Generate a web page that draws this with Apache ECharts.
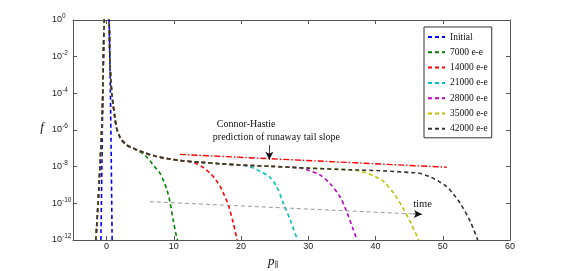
<!DOCTYPE html>
<html><head><meta charset="utf-8">
<script src="https://cdn.jsdelivr.net/npm/echarts@6/dist/echarts.min.js"></script>
<style>html,body{margin:0;padding:0;background:#fff}#c{width:563px;height:271px}</style>
</head><body><div id="c"></div>
<script>
// ---- data (p_parallel, log10 f) ----
const seriesNames = ['Initial', '7000 e-e', '14000 e-e', '21000 e-e', '28000 e-e', '35000 e-e', '42000 e-e'];
const xTickValues = [0, 10, 20, 30, 40, 50, 60];

const initialP = [-0.85, -0.7, -0.6, -0.5, -0.37, -0.2, 0, 0.2, 0.37, 0.5, 0.6, 0.7, 0.82];
const initialLogF = [-12, -7.9, -5, -2.5, 0, 2.2, 3, 2.2, 0, -2.5, -5, -7.9, -12];

// shared bulk of the evolved distributions
const coreP = [-1.6, -1.49, -1.1, -0.65, -0.35, 0.05, 0.37, 0.5, 0.64, 0.8, 1.0, 1.24, 1.49, 2.08, 2.98, 3.96];
const coreLogF = [-12, -11.35, -8.84, -5.18, 0, 2.5, 0, -2.3, -3.36, -4.1, -4.7, -5.36, -5.91, -6.45, -6.82, -7.0];

// shared runaway plateau
const plateauP = [5.45, 7.2, 8.93, 11, 13.9, 16.9, 19.8, 24.3, 30, 36.2, 40.7, 45.6];
const plateauLogF = [-7.22, -7.42, -7.55, -7.67, -7.76, -7.84, -7.91, -7.98, -8.08, -8.17, -8.22, -8.33];

// fall-off of each evolved curve
const drop7000P = [5.2, 5.8, 6.44, 7.0, 7.5, 7.93, 8.5, 9.0, 9.42, 9.9, 10.4, 10.55];
const drop7000LogF = [-7.25, -7.42, -7.68, -7.95, -8.15, -8.35, -8.8, -9.3, -9.91, -10.9, -11.82, -12];
const drop14000P = [12.6, 13.4, 14.4, 15.4, 16.2, 16.9, 17.5, 18.1, 18.85, 19.4];
const drop14000LogF = [-7.74, -7.84, -8.05, -8.36, -8.7, -9.09, -9.55, -10.09, -11.09, -12];
const drop21000P = [20.5, 21.3, 22.8, 24.2, 25.3, 26.3, 27.3, 28.4];
const drop21000LogF = [-7.93, -8.0, -8.25, -8.55, -9.09, -10.0, -10.9, -12];
const drop28000P = [28.5, 29.8, 31.7, 33.2, 34.7, 35.7, 36.7, 37.25];
const drop28000LogF = [-8.06, -8.17, -8.45, -8.91, -9.64, -10.45, -11.45, -12];
const drop35000P = [37, 38.5, 40, 41.2, 42.7, 44.1, 45.4, 46.4];
const drop35000LogF = [-8.2, -8.33, -8.55, -8.8, -9.45, -10.27, -11.18, -12];
const drop42000P = [46.5, 48.1, 49.4, 50.6, 51.6, 52.6, 54.1, 55.2];
const drop42000LogF = [-8.36, -8.55, -8.8, -9.09, -9.5, -10.0, -11.0, -12];

// Connor-Hastie predicted slope
const connorP = [10.9, 50.6];
const connorLogF = [-7.33, -8.03];
// "time" arrow (dashed shaft, black head)
const timeP = [6.44, 46.9];
const timeLogF = [-9.91, -10.6];
const timeHeadP = [45.6, 46.9];
const timeHeadLogF = [-10.578, -10.6];
// annotation arrow to Connor-Hastie line
const noteArrowP = [24.2, 24.2];
const noteArrowLogF = [-6.82, -7.62];

// ---- styles ----
const colors = ['#0000ff', '#008000', '#ff0000', '#00bfbf', '#bf00bf', '#bfbf00', '#333333'];
const serif = "'Liberation Serif', 'DejaVu Serif', serif";
const sans = "'Liberation Sans', Arial, sans-serif";
const axisColor = '#555';

function zip(ps, fs) { return ps.map((p, i) => [p, fs[i]]); }
function evolved(dropP, dropF) {
  const pl = [];
  plateauP.forEach((p, i) => { if (p < dropP[0]) pl.push([p, plateauLogF[i]]); });
  return zip(coreP, coreLogF).concat(pl, zip(dropP, dropF));
}
const curves = [
  zip(initialP, initialLogF),
  evolved(drop7000P, drop7000LogF),
  evolved(drop14000P, drop14000LogF),
  evolved(drop21000P, drop21000LogF),
  evolved(drop28000P, drop28000LogF),
  evolved(drop35000P, drop35000LogF),
  evolved(drop42000P, drop42000LogF)
];

const series = curves.map((d, i) => ({
  name: seriesNames[i], type: 'line', data: d, symbol: 'none', smooth: 0.3,
  clip: true, silent: true, animation: false,
  lineStyle: { color: colors[i], width: 1.6, type: [4, 3] },
  itemStyle: { color: colors[i] }
}));
series.push({
  name: 'Connor-Hastie', type: 'line', data: zip(connorP, connorLogF), symbol: 'none',
  animation: false, silent: true,
  lineStyle: { color: '#ff0000', width: 1.4, type: [6, 2, 1.5, 2] }
});
series.push({
  name: 'annot', type: 'line', data: [], symbol: 'none', animation: false, silent: true,
  markLine: {
    silent: true, animation: false, symbol: ['none', 'none'],
    label: { show: false },
    data: [
      [{ coord: [timeP[0], timeLogF[0]], lineStyle: { color: '#999', width: 1, type: [4, 3] } },
       { coord: [timeP[1], timeLogF[1]] }]
    ]
  }
});
series.push({
  name: 'annot2', type: 'line', data: [], symbol: 'none', animation: false, silent: true,
  markLine: {
    silent: true, animation: false, symbol: ['none', 'arrow'], symbolSize: [6, 8],
    label: { show: false },
    data: [
      [{ coord: [timeHeadP[0], timeHeadLogF[0]], lineStyle: { color: '#111', width: 0.8, type: 'solid' } },
       { coord: [timeHeadP[1], timeHeadLogF[1]] }],
      [{ coord: [noteArrowP[0], noteArrowLogF[0]], lineStyle: { color: '#111', width: 0.8, type: 'solid' } },
       { coord: [noteArrowP[1], noteArrowLogF[1]] }]
    ]
  }
});

const axisCommon = {
  axisLine: { onZero: false, lineStyle: { color: axisColor, width: 1 } },
  splitLine: { show: false }
};

const option = {
  backgroundColor: '#fff',
  animation: false,
  grid: { left: 73, top: 20, width: 437, height: 220 },
  legend: {
    data: seriesNames, orient: 'vertical', left: 424, top: 27,
    padding: [5, 4, 4, 3], itemWidth: 17, itemHeight: 10, itemGap: 5.3,
    borderColor: '#333', borderWidth: 1, backgroundColor: '#fff',
    itemStyle: { opacity: 0 },
    textStyle: { fontFamily: serif, fontSize: 9.5, color: '#111' }
  },
  xAxis: [
    Object.assign({
      type: 'value', min: -5, max: 60, interval: 5, position: 'bottom',
      axisTick: { inside: true, length: 4, customValues: xTickValues, lineStyle: { color: axisColor } },
      axisLabel: { customValues: xTickValues, fontSize: 9, color: '#222', margin: 2, fontFamily: sans }
    }, axisCommon),
    Object.assign({
      type: 'value', min: -5, max: 60, interval: 5, position: 'top',
      axisTick: { inside: true, length: 4, customValues: xTickValues, lineStyle: { color: axisColor } },
      axisLabel: { show: false }
    }, axisCommon)
  ],
  yAxis: [
    Object.assign({
      type: 'value', min: -12, max: 0, interval: 2, position: 'left',
      axisTick: { inside: true, length: 4, lineStyle: { color: axisColor } },
      axisLabel: {
        align: 'left', margin: 21, color: '#222',
        formatter: v => '{b|10}{e|' + v + '}',
        rich: {
          b: { fontSize: 9, fontFamily: sans, color: '#222' },
          e: { fontSize: 6.5, fontFamily: sans, color: '#222', padding: [0, 0, 7, 0] }
        }
      }
    }, axisCommon),
    Object.assign({
      type: 'value', min: -12, max: 0, interval: 2, position: 'right',
      axisTick: { inside: true, length: 4, lineStyle: { color: axisColor } },
      axisLabel: { show: false }
    }, axisCommon)
  ],
  series: series
};

const chart = echarts.init(document.getElementById('c'), null, { renderer: 'canvas' });
chart.setOption(option);

function px(p, f) { return chart.convertToPixel({ gridIndex: 0 }, [p, f]); }
const t1 = px(16.4, -5.67), t2 = px(15.8, -6.4), t3 = px(45.6, -10.04);
chart.setOption({
  graphic: [
    { type: 'text', x: t1[0], y: t1[1], style: { text: 'Connor-Hastie', font: '10px ' + serif, fill: '#111', verticalAlign: 'middle' } },
    { type: 'text', x: t2[0], y: t2[1], style: { text: 'prediction of runaway tail slope', font: '10px ' + serif, fill: '#111', verticalAlign: 'middle' } },
    { type: 'text', x: t3[0], y: t3[1], style: { text: 'time', font: '10.5px ' + serif, fill: '#111', verticalAlign: 'middle' } },
    { type: 'text', x: 42, y: 128, style: { text: 'f', font: 'italic 13px ' + serif, fill: '#111', align: 'center', verticalAlign: 'middle' } },
    { type: 'text', x: 273, y: 262, style: {
        text: '{p|p}{s|∥}', align: 'center', verticalAlign: 'middle',
        rich: { p: { font: 'italic 13px ' + serif, fill: '#111' }, s: { font: '8px ' + serif, fill: '#111', padding: [5, 0, 0, 0] } }
      } }
  ]
});
</script>
</body></html>
